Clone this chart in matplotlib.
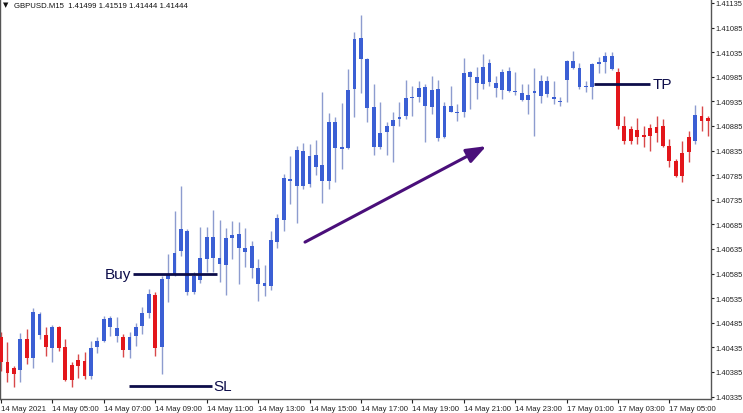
import matplotlib
matplotlib.use("Agg")
import matplotlib.pyplot as plt
import numpy as np

# GBPUSD M15 candles, 14 May 2021 03:00 .. 17 May 2021 06:30
open_ = [
    1.40456, 1.40405, 1.40381, 1.40389, 1.40452, 1.40413, 1.40503, 1.40460, 1.40433, 1.40476,
    1.40436, 1.40368, 1.40397, 1.40407, 1.40377, 1.40436, 1.40448, 1.40494, 1.40474, 1.40456,
    1.40429, 1.40458, 1.40478, 1.40505, 1.40541, 1.40436, 1.40574, 1.40584, 1.40631, 1.40671,
    1.40547, 1.40572, 1.40614, 1.40659, 1.40616, 1.40602, 1.40657, 1.40665, 1.40637, 1.40641,
    1.40596, 1.40566, 1.40560, 1.40649, 1.40694, 1.40777, 1.40763, 1.40834, 1.40767, 1.40826,
    1.40806, 1.40773, 1.40893, 1.40838, 1.40840, 1.40960, 1.41064, 1.41021, 1.40923, 1.40842,
    1.40873, 1.40885, 1.40899, 1.40905, 1.40942, 1.40944, 1.40964, 1.40923, 1.40960, 1.40862,
    1.40925, 1.40913, 1.40913, 1.40995, 1.40984, 1.40970, 1.41013, 1.40972, 1.40958, 1.40997,
    1.40956, 1.40952, 1.40938, 1.40952, 1.40946, 1.40976, 1.40944, 1.40936, 1.40978, 1.41017,
    1.41003, 1.40964, 1.40964, 1.41011, 1.41015, 1.41027, 1.40995, 1.40885, 1.40854, 1.40877,
    1.40862, 1.40864, 1.40883, 1.40885, 1.40844, 1.40814, 1.40783, 1.40832, 1.40854, 1.40905,
    1.40895]
high_ = [
    1.40466, 1.40446, 1.40397, 1.40464, 1.40472, 1.40515, 1.40507, 1.40476, 1.40480, 1.40478,
    1.40452, 1.40405, 1.40421, 1.40425, 1.40448, 1.40456, 1.40499, 1.40499, 1.40497, 1.40462,
    1.40466, 1.40484, 1.40517, 1.40553, 1.40547, 1.40580, 1.40625, 1.40712, 1.40763, 1.40675,
    1.40588, 1.40679, 1.40679, 1.40714, 1.40694, 1.40677, 1.40692, 1.40690, 1.40677, 1.40651,
    1.40614, 1.40602, 1.40671, 1.40706, 1.40787, 1.40824, 1.40844, 1.40850, 1.40848, 1.40856,
    1.40954, 1.40911, 1.40903, 1.40932, 1.41001, 1.41076, 1.41110, 1.41024, 1.40970, 1.40934,
    1.40893, 1.40913, 1.40934, 1.40978, 1.40966, 1.40976, 1.40970, 1.40986, 1.40978, 1.40934,
    1.40966, 1.40930, 1.41023, 1.40997, 1.41005, 1.41031, 1.41021, 1.40986, 1.41001, 1.41005,
    1.40995, 1.40970, 1.40970, 1.41003, 1.40988, 1.40986, 1.40976, 1.40944, 1.41019, 1.41037,
    1.41013, 1.40976, 1.41013, 1.41025, 1.41035, 1.41035, 1.41003, 1.40905, 1.40885, 1.40901,
    1.40885, 1.40889, 1.40905, 1.40899, 1.40858, 1.40818, 1.40854, 1.40875, 1.40927, 1.40925,
    1.40905]
low_ = [
    1.40387, 1.40364, 1.40354, 1.40364, 1.40401, 1.40393, 1.40452, 1.40417, 1.40405, 1.40427,
    1.40366, 1.40354, 1.40372, 1.40370, 1.40370, 1.40423, 1.40446, 1.40458, 1.40446, 1.40415,
    1.40413, 1.40438, 1.40462, 1.40494, 1.40417, 1.40381, 1.40527, 1.40580, 1.40621, 1.40541,
    1.40543, 1.40566, 1.40588, 1.40588, 1.40568, 1.40541, 1.40614, 1.40564, 1.40598, 1.40576,
    1.40529, 1.40539, 1.40551, 1.40637, 1.40671, 1.40726, 1.40688, 1.40757, 1.40761, 1.40785,
    1.40728, 1.40757, 1.40771, 1.40797, 1.40838, 1.40903, 1.40952, 1.40893, 1.40826, 1.40838,
    1.40826, 1.40812, 1.40885, 1.40899, 1.40905, 1.40934, 1.40852, 1.40909, 1.40854, 1.40860,
    1.40913, 1.40895, 1.40903, 1.40919, 1.40940, 1.40960, 1.40966, 1.40944, 1.40940, 1.40954,
    1.40948, 1.40936, 1.40909, 1.40864, 1.40932, 1.40944, 1.40930, 1.40925, 1.40934, 1.41001,
    1.40960, 1.40954, 1.40940, 1.40993, 1.40993, 1.40999, 1.40879, 1.40848, 1.40848, 1.40848,
    1.40842, 1.40834, 1.40852, 1.40842, 1.40801, 1.40781, 1.40771, 1.40812, 1.40848, 1.40875,
    1.40864]
close_ = [
    1.40405, 1.40383, 1.40393, 1.40452, 1.40413, 1.40507, 1.40460, 1.40436, 1.40476, 1.40433,
    1.40368, 1.40399, 1.40409, 1.40377, 1.40433, 1.40448, 1.40492, 1.40476, 1.40458, 1.40429,
    1.40456, 1.40476, 1.40505, 1.40543, 1.40433, 1.40574, 1.40584, 1.40627, 1.40675, 1.40547,
    1.40580, 1.40616, 1.40659, 1.40616, 1.40604, 1.40657, 1.40663, 1.40637, 1.40629, 1.40596,
    1.40564, 1.40560, 1.40653, 1.40698, 1.40779, 1.40773, 1.40836, 1.40763, 1.40824, 1.40801,
    1.40773, 1.40893, 1.40840, 1.40842, 1.40958, 1.41062, 1.41021, 1.40921, 1.40842, 1.40871,
    1.40885, 1.40897, 1.40903, 1.40942, 1.40944, 1.40962, 1.40925, 1.40958, 1.40860, 1.40925,
    1.40913, 1.40911, 1.40993, 1.40984, 1.40972, 1.41005, 1.40974, 1.40962, 1.40995, 1.40956,
    1.40954, 1.40938, 1.40948, 1.40956, 1.40976, 1.40950, 1.40940, 1.40934, 1.41017, 1.41003,
    1.40964, 1.40966, 1.41011, 1.41015, 1.41027, 1.41001, 1.40885, 1.40854, 1.40879, 1.40862,
    1.40867, 1.40881, 1.40871, 1.40844, 1.40814, 1.40783, 1.40830, 1.40862, 1.40907, 1.40895,
    1.40901]

# candle colouring: r = red, b = blue
candle_side = ("rrrbrbbrbrrrrrbbbbbrbbbbr"
               "bbbbbbbbbbbbbbbbbbbbbbbbbbbbbbbbbbbbbbbbbbbbbbbbbbbbbbbbbbbbbbbbbbbbbbb"
               "rrrrrrrrrrrr"
               "brr")

time_tick_bars = [0, 8, 16, 24, 32, 40, 48, 56, 64, 72, 80, 88, 96, 104]
time_tick_labels = ["14 May 2021", "14 May 05:00", "14 May 07:00", "14 May 09:00",
                    "14 May 11:00", "14 May 13:00", "14 May 15:00", "14 May 17:00",
                    "14 May 19:00", "14 May 21:00", "14 May 23:00", "17 May 01:00",
                    "17 May 03:00", "17 May 05:00"]
price_ticks = [1.40335, 1.40385, 1.40435, 1.40485, 1.40535, 1.40585, 1.40635, 1.40685,
               1.40735, 1.40785, 1.40835, 1.40885, 1.40935, 1.40985, 1.41035, 1.41085,
               1.41135]

buy_price = 1.40584
sl_price = 1.40357
tp_price = 1.40970

header = "GBPUSD.M15  1.41499 1.41519 1.41444 1.41444"

# ---------------------------------------------------------------------------
W, H = 743, 414
fig = plt.figure(figsize=(W / 100, H / 100), dpi=100)
ax = fig.add_axes([0.0, 14 / H, 711 / W, 400 / H])

small_font = ["Liberation Sans", "DejaVu Sans"]
label_font = ["Liberation Sans", "DejaVu Sans"]
small_size = 5.6
price_size = 5.4

o = np.array(open_)
h = np.array(high_)
l = np.array(low_)
c = np.array(close_)
x = np.arange(len(o))

body_col = {"b": "#3b5fd4", "r": "#e3161b"}
wick_col = {"b": "#8d9ccf", "r": "#d8484a"}
cols = [body_col[s] for s in candle_side]
wcols = [wick_col[s] for s in candle_side]

min_h = 0.000022
bot = np.minimum(o, c)
hgt = np.maximum(np.abs(c - o), min_h)

ax.vlines(x, l, h, colors=wcols, linewidth=1.0, zorder=2)
ax.bar(x, hgt, bottom=bot, width=0.6, color=cols, linewidth=0, zorder=3)

# trade levels
navy = "#0d0d4a"
ax.hlines(buy_price, 20.5, 33.6, colors=navy, linewidth=2.0, zorder=4)
ax.text(20.3, buy_price, "Buy", ha="right", va="center", fontsize=11,
        color=navy, family=label_font, zorder=5)
ax.hlines(sl_price, 19.95, 32.8, colors=navy, linewidth=2.0, zorder=4)
ax.text(33.0, sl_price, "SL", ha="left", va="center", fontsize=11,
        color=navy, family=label_font, zorder=5)
ax.hlines(tp_price, 92.3, 101.0, colors=navy, linewidth=2.0, zorder=4)
ax.text(101.4, tp_price, "TP", ha="left", va="center", fontsize=11,
        color=navy, family=label_font, zorder=5)

# trend arrow
ax.annotate("", xy=(75.5, 1.40844), xytext=(47.3, 1.40649),
            arrowprops=dict(arrowstyle="-|>,head_length=0.85,head_width=0.32",
                            color="#4a0f7a", lw=2.2, mutation_scale=14,
                            shrinkA=0, shrinkB=0), zorder=6)

# axes
ax.set_xlim(-0.156, 110.47)
ax.set_ylim(1.403301, 1.411431)
ax.yaxis.tick_right()
ax.set_yticks(price_ticks)
ax.set_yticklabels([f"{p:.5f}" for p in price_ticks])
ax.set_xticks(time_tick_bars)
ax.set_xticklabels(time_tick_labels, ha="left")
ax.tick_params(axis="y", direction="out", length=2, width=0.8, pad=1,
               labelsize=price_size, colors="#222222")
ax.tick_params(axis="x", direction="out", length=3, width=0.8, pad=1,
               labelsize=small_size, colors="#222222")
for lab in ax.get_xticklabels() + ax.get_yticklabels():
    lab.set_family(small_font)
for side in ("left", "right", "bottom"):
    ax.spines[side].set_color("#555555")
    ax.spines[side].set_linewidth(1.0)
ax.spines["top"].set_visible(False)

fig.text(3 / W, 1 - 5 / H, "\u25bc", fontsize=5, color="#111111",
         family=["DejaVu Sans"], va="center", ha="left")
fig.text(14 / W, 1 - 6 / H, header, fontsize=small_size, color="#111111",
         family=small_font, va="center", ha="left")

fig.savefig("out.png", dpi=100, facecolor="white")
